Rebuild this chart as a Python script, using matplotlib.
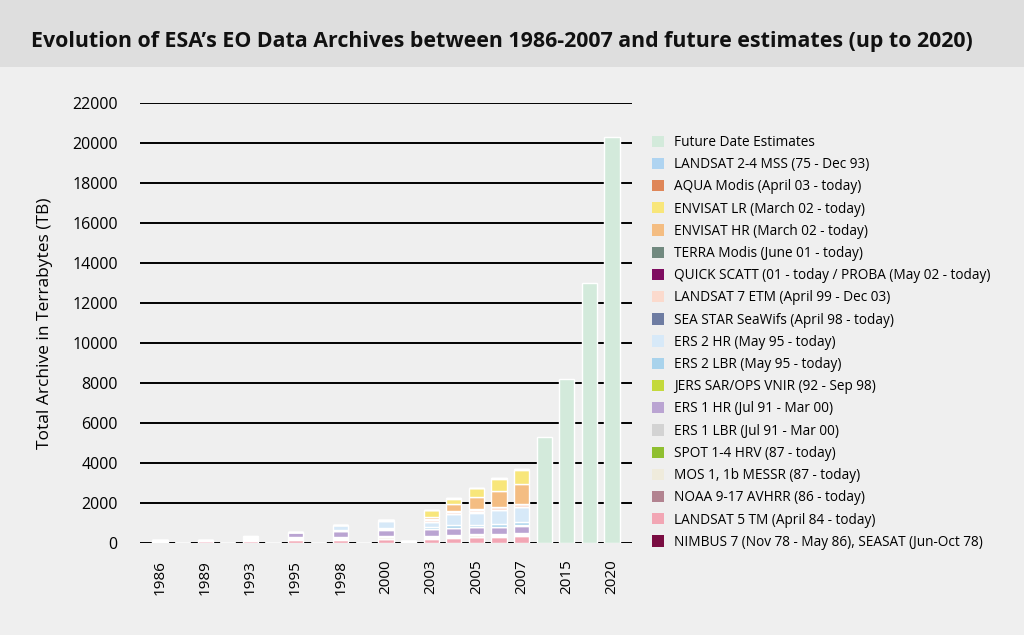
import matplotlib
matplotlib.use("Agg")
import matplotlib.pyplot as plt
from matplotlib.patches import Patch, Rectangle
import numpy as np

plt.rcParams['font.family'] = ['Open Sans', 'DejaVu Sans']

categories = ['1986', '', '1989', '', '1993', '', '1995', '', '1998', '', '2000', '',
              '2003', '', '2005', '', '2007', '', '2015', '', '2020']

# series in stacking order (bottom -> top)
series_names = [
    'NIMBUS 7 (Nov 78 - May 86), SEASAT (Jun-Oct 78)',
    'LANDSAT 5 TM (April 84 - today)',
    'NOAA 9-17 AVHRR (86 - today)',
    'MOS 1, 1b MESSR (87 - today)',
    'SPOT 1-4 HRV (87 - today)',
    'ERS 1 LBR (Jul 91 - Mar 00)',
    'ERS 1 HR (Jul 91 - Mar 00)',
    'JERS SAR/OPS VNIR (92 - Sep 98)',
    'ERS 2 LBR (May 95 - today)',
    'ERS 2 HR (May 95 - today)',
    'SEA STAR SeaWifs (April 98 - today)',
    'LANDSAT 7 ETM (April 99 - Dec 03)',
    'QUICK SCATT (01 - today / PROBA (May 02 - today)',
    'TERRA Modis (June 01 - today)',
    'ENVISAT HR (March 02 - today)',
    'ENVISAT LR (March 02 - today)',
    'AQUA Modis (April 03 - today)',
    'LANDSAT 2-4 MSS (75 - Dec 93)',
    'Future Date Estimates',
]
series_colors = [
    '#7a0d42', '#f2a6b4', '#b28390', '#efebdc', '#8fbf30', '#d3d3d3', '#baa4d2',
    '#c4d93c', '#a9d3ec', '#d7e9f8', '#6e7ca2', '#fbdacd', '#7e0c60', '#71897f',
    '#f4bd82', '#f8e67a', '#df8658', '#afd4f1', '#d3eadb',
]

nimbus      = [10, 0, 10, 0, 0, 0, 0, 0, 0, 0, 0, 0, 0, 0, 0, 0, 0, 0, 0, 0, 0]
landsat5    = [60, 0, 70, 0, 120, 0, 150, 0, 150, 0, 180, 0, 200, 250, 280, 300, 350, 0, 0, 0, 0]
noaa        = [20, 0, 20, 0, 30, 0, 30, 0, 30, 0, 40, 0, 40, 40, 40, 40, 40, 0, 0, 0, 0]
mos         = [40, 0, 50, 0, 60, 0, 60, 0, 60, 0, 60, 60, 60, 60, 60, 60, 60, 0, 0, 0, 0]
spot        = [0, 0, 0, 0, 10, 0, 10, 0, 10, 0, 10, 0, 10, 10, 10, 10, 10, 0, 0, 0, 0]
ers1_lbr    = [0, 0, 0, 0, 40, 0, 50, 0, 60, 0, 60, 60, 60, 60, 60, 60, 60, 0, 0, 0, 0]
ers1_hr     = [0, 0, 0, 0, 60, 0, 250, 0, 300, 0, 320, 0, 330, 330, 330, 340, 350, 0, 0, 0, 0]
jers        = [0, 0, 0, 0, 0, 0, 10, 0, 10, 0, 10, 0, 10, 10, 10, 10, 10, 0, 0, 0, 0]
ers2_lbr    = [0, 0, 0, 0, 0, 0, 0, 0, 40, 0, 80, 0, 80, 120, 130, 140, 150, 0, 0, 0, 0]
ers2_hr     = [0, 0, 0, 0, 0, 0, 0, 0, 250, 0, 320, 0, 250, 550, 600, 700, 750, 0, 0, 0, 0]
seastar     = [0, 0, 0, 0, 0, 0, 0, 0, 0, 0, 10, 0, 10, 10, 10, 10, 10, 0, 0, 0, 0]
landsat7    = [0, 0, 0, 0, 0, 0, 0, 0, 0, 0, 80, 0, 120, 130, 130, 130, 160, 0, 0, 0, 0]
quickscatt  = [0, 0, 0, 0, 0, 0, 0, 0, 0, 0, 0, 0, 10, 10, 10, 10, 10, 0, 0, 0, 0]
terra       = [0, 0, 0, 0, 0, 0, 0, 0, 0, 0, 0, 0, 10, 10, 10, 10, 10, 0, 0, 0, 0]
envisat_hr  = [0, 0, 0, 0, 0, 0, 0, 0, 0, 0, 0, 0, 100, 380, 600, 800, 1000, 0, 0, 0, 0]
envisat_lr  = [0, 0, 0, 0, 0, 0, 0, 0, 0, 0, 0, 0, 350, 250, 450, 600, 700, 0, 0, 0, 0]
aqua        = [0, 0, 0, 0, 0, 0, 0, 0, 0, 0, 0, 0, 0, 10, 10, 10, 10, 0, 0, 0, 0]
landsat2_4  = [20, 0, 20, 0, 20, 0, 0, 0, 0, 0, 0, 0, 0, 0, 0, 0, 0, 0, 0, 0, 0]
future      = [0, 0, 0, 0, 0, 0, 0, 0, 0, 0, 0, 0, 0, 0, 0, 0, 0, 5300, 8200, 13000, 20300]

series_values = [nimbus, landsat5, noaa, mos, spot, ers1_lbr, ers1_hr, jers, ers2_lbr,
                 ers2_hr, seastar, landsat7, quickscatt, terra, envisat_hr, envisat_lr,
                 aqua, landsat2_4, future]

yticks = [0, 2000, 4000, 6000, 8000, 10000, 12000, 14000, 16000, 18000, 20000, 22000]

fig = plt.figure(figsize=(10.24, 6.35), dpi=100)
fig.patch.set_facecolor('#efefef')
# title band
fig.patches.append(Rectangle((0, 1 - 67 / 635), 1, 67 / 635, transform=fig.transFigure,
                             facecolor='#dedede', edgecolor='none', zorder=0))
fig.text(0.49, 1 - 42 / 635, "Evolution of ESA’s EO Data Archives between 1986-2007 and future estimates (up to 2020)",
         ha='center', va='center', fontsize=15.4, fontweight='bold', color='#111111')

ax = fig.add_axes([140 / 1024, 1 - 543 / 635, 492 / 1024, 440 / 635])
ax.set_facecolor('none')
x = np.arange(len(categories))
bottom = np.zeros(len(categories))
for name, col, vals in zip(series_names, series_colors, series_values):
    v = np.array(vals, dtype=float)
    ax.bar(x, v, bottom=bottom, width=0.68, color=col, edgecolor='white',
           linewidth=1.0, zorder=3, label=name)
    bottom += v

ax.set_ylim(0, 22000)
ax.set_xlim(-0.885, len(categories) - 1 + 0.885)
ax.set_yticks(yticks)
ax.set_yticklabels([str(t) for t in yticks], fontsize=11.5)
ax.yaxis.grid(True, color='black', linewidth=1.4, zorder=1)
ax.set_axisbelow(True)
ax.set_xticks(x)
ax.set_xticklabels(categories, rotation=90, fontsize=11)
ax.tick_params(axis='both', length=0)
ax.tick_params(axis='y', pad=16)
ax.tick_params(axis='x', pad=12)
for s in ax.spines.values():
    s.set_visible(False)
ax.set_ylabel('Total Archive in Terrabytes (TB)', fontsize=12.5, labelpad=14)

handles = [Patch(facecolor=c, edgecolor='none') for c in series_colors][::-1]
labels = series_names[::-1]
leg = fig.legend(handles, labels, loc='upper left', bbox_to_anchor=(641 / 1024, 1 - 124 / 635),
                 frameon=False, fontsize=9.8, handlelength=0.9, handleheight=0.9,
                 handletextpad=0.75, labelspacing=0.53, borderpad=0.3)

fig.savefig('out.png', dpi=100, facecolor=fig.get_facecolor())
